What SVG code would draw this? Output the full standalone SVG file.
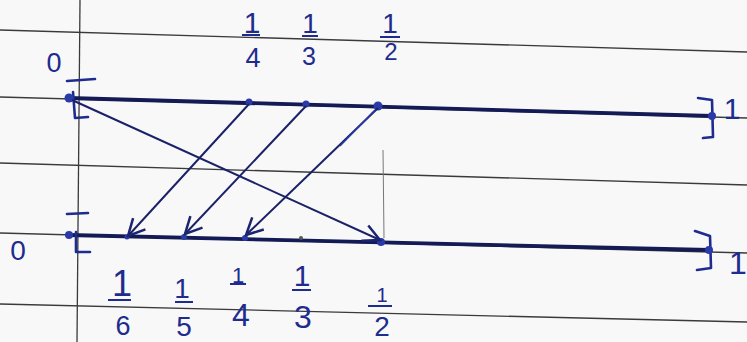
<svg xmlns="http://www.w3.org/2000/svg" width="747" height="342" viewBox="0 0 747 342">
<defs>
<marker id="arr" markerUnits="userSpaceOnUse" markerWidth="20" markerHeight="20" viewBox="0 0 12 12" refX="11" refY="6" orient="auto">
<path d="M1,1 L11,6 L1,11" fill="none" stroke="#1a2470" stroke-width="1.5"/>
</marker>
<style>
.rule{stroke:#3a3a3a;stroke-width:1.3;fill:none}
.axis{stroke:#141a55;stroke-width:3.8;fill:none;stroke-linecap:round}
.pt{fill:#2a3aa8}
.br{stroke:#1d2c8e;stroke-width:2.6;fill:none;stroke-linecap:round;stroke-linejoin:round}
.ar{stroke:#1a2166;stroke-width:2;fill:none;marker-end:url(#arr)}
.lb{font-family:"Liberation Sans","DejaVu Sans",sans-serif;fill:#1d2c8e;text-anchor:middle}
.bar{stroke:#1d2c8e;stroke-width:2}
</style>
</defs>
<rect width="747" height="342" fill="#f8f8f8"/>
<g id="paper">
<line class="rule" x1="0" y1="30" x2="747" y2="52"/>
<line class="rule" x1="0" y1="97" x2="747" y2="118"/>
<line class="rule" x1="0" y1="163" x2="747" y2="185"/>
<line class="rule" x1="0" y1="233" x2="747" y2="253"/>
<line class="rule" x1="0" y1="304" x2="747" y2="322"/>
<line class="rule" x1="80" y1="0" x2="77" y2="342" stroke-width="1"/>
</g>
<g id="top-axis">
<line class="axis" x1="68" y1="98" x2="712" y2="116"/>
<path class="br" d="M67,81 L95,79 M73,92 L75,118 L88,117"/>
<path class="br" d="M698,98 L712,100 L713,137 L703,138"/>
<text class="lb" x="54" y="72" font-size="27">0</text>
<text class="lb" x="732" y="119" font-size="30">1</text>
</g>
<g id="bottom-axis">
<line class="axis" x1="68" y1="235" x2="709" y2="250"/>
<path class="br" d="M67,214 L88,213 M76,232 L76,252 L90,252"/>
<path class="br" d="M695,231 L710,236 L711,268 L697,270"/>
<text class="lb" x="18" y="260" font-size="28">0</text>
<text class="lb" x="738" y="274" font-size="32">1</text>
</g>
<g id="top-0"><circle class="pt" cx="69" cy="98" r="4.5"/></g>
<g id="top-quarter"><circle class="pt" cx="249" cy="102" r="3.5"/>
<text class="lb" x="252" y="33" font-size="30">1</text><line class="bar" x1="242" y1="35" x2="260" y2="35"/><text class="lb" x="253" y="67" font-size="27">4</text></g>
<g id="top-third"><circle class="pt" cx="306" cy="104" r="3.5"/>
<text class="lb" x="310" y="33" font-size="28">1</text><line class="bar" x1="302" y1="36" x2="318" y2="36"/><text class="lb" x="309" y="65" font-size="25">3</text></g>
<g id="top-half"><circle class="pt" cx="378" cy="106" r="4.5"/>
<text class="lb" x="390" y="33" font-size="28">1</text><line class="bar" x1="380" y1="37" x2="400" y2="37"/><text class="lb" x="391" y="60" font-size="24">2</text></g>
<g id="top-1"><circle class="pt" cx="712" cy="116" r="4"/></g>
<g id="bot-0"><circle class="pt" cx="69" cy="235" r="4"/></g>
<g id="bot-sixth"><circle class="pt" cx="127" cy="237" r="2.5"/>
<text class="lb" x="122" y="296" font-size="36">1</text><line class="bar" x1="108" y1="300" x2="131" y2="300"/><text class="lb" x="123" y="335" font-size="27">6</text></g>
<g id="bot-fifth"><circle class="pt" cx="184" cy="237" r="3"/>
<text class="lb" x="182" y="298" font-size="28">1</text><line class="bar" x1="175" y1="302" x2="193" y2="302"/><text class="lb" x="184" y="336" font-size="28">5</text></g>
<g id="bot-quarter"><circle class="pt" cx="245" cy="238" r="3"/>
<text class="lb" x="238" y="283" font-size="22">1</text><line class="bar" x1="230" y1="284" x2="246" y2="284"/><text class="lb" x="241" y="326" font-size="32">4</text></g>
<g id="bot-third"><circle cx="301" cy="238" r="2" fill="#555"/>
<text class="lb" x="302" y="286" font-size="30">1</text><line class="bar" x1="292" y1="290" x2="311" y2="290"/><text class="lb" x="303" y="328" font-size="32">3</text></g>
<g id="bot-half"><circle class="pt" cx="381" cy="242" r="4"/>
<text class="lb" x="382" y="302" font-size="20">1</text><line class="bar" x1="368" y1="306" x2="392" y2="306"/><text class="lb" x="382" y="336" font-size="28">2</text></g>
<g id="bot-1"><circle class="pt" cx="709" cy="250" r="4"/></g>
<g id="connectors">
<line class="ar" x1="249" y1="104" x2="128" y2="236"/>
<line class="ar" x1="306" y1="106" x2="185" y2="234"/>
<line class="ar" x1="378" y1="108" x2="246" y2="235"/>
<line x1="375" y1="110" x2="340" y2="146" stroke="#2a3aa8" stroke-width="1.5"/>
<line class="ar" x1="72" y1="100" x2="380" y2="240"/>
<line x1="383" y1="150" x2="384" y2="238" stroke="#777" stroke-width="1"/>
</g>
</svg>
